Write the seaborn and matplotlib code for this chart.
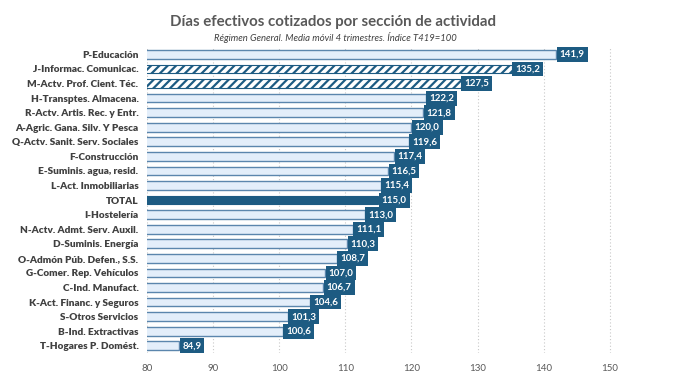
import pandas as pd
import matplotlib.pyplot as plt
import seaborn as sns

# ================================================
# DATA
# ================================================
sectores = ['P-Educación', 'J-Informac. Comunicac.', 'M-Actv. Prof. Cient. Téc.',
            'H-Transptes. Almacena.', 'R-Actv. Artis. Rec. y Entr.',
            'A-Agric. Gana. Silv. Y Pesca', 'Q-Actv. Sanit. Serv. Sociales',
            'F-Construcción', 'E-Suminis. agua, resid.', 'L-Act. Inmobiliarias',
            'TOTAL', 'I-Hostelería', 'N-Actv. Admt. Serv. Auxil.',
            'D-Suminis. Energía', 'O-Admón Púb. Defen., S.S.',
            'G-Comer. Rep. Vehículos', 'C-Ind. Manufact.',
            'K-Act. Financ. y Seguros', 'S-Otros Servicios',
            'B-Ind. Extractivas', 'T-Hogares P. Domést.']
indice = [141.9, 135.2, 127.5, 122.2, 121.8, 120.0, 119.6, 117.4, 116.5, 115.4,
          115.0, 113.0, 111.1, 110.3, 108.7, 107.0, 106.7, 104.6, 101.3, 100.6, 84.9]
rayados = ['J-Informac. Comunicac.', 'M-Actv. Prof. Cient. Téc.']
xticks = [80, 90, 100, 110, 120, 130, 140, 150]

df = pd.DataFrame({'sector': sectores, 'indice': indice})

# ================================================
# STYLE
# ================================================
sns.set_style("white")
plt.rcParams['font.family'] = ['Lato', 'DejaVu Sans']
plt.rcParams['hatch.linewidth'] = 1.6

azul = '#1d5b82'
claro = '#e3eefa'
borde = '#5b86ad'

colores = {s: (azul if s == 'TOTAL' else ('white' if s in rayados else claro))
           for s in sectores}

fig = plt.figure(figsize=(6.73, 3.74), dpi=100)
ax = fig.add_axes([0.218, 0.056, 0.708, 0.818])

sns.barplot(data=df, x='indice', y='sector', hue='sector', palette=colores,
            legend=False, width=0.6, ax=ax, saturation=1)

for patch, s in zip(ax.patches, sectores):
    if s == 'TOTAL':
        patch.set_edgecolor(azul)
        patch.set_linewidth(0.8)
    elif s in rayados:
        patch.set_hatch('////')
        patch.set_edgecolor(azul)
        patch.set_linewidth(0.8)
    else:
        patch.set_edgecolor(borde)
        patch.set_linewidth(1.0)

# value labels
for i, v in enumerate(indice):
    ax.text(v + 0.5, i, f'{v:.1f}'.replace('.', ','), ha='left', va='center',
            color='white', fontsize=7, fontweight='bold',
            bbox=dict(boxstyle='square,pad=0.3', facecolor=azul, edgecolor='none'))

ax.set_xlim(80, 152)
ax.set_ylim(len(sectores) - 0.5, -0.5)
ax.set_xticks(xticks)
ax.set_yticks(range(len(sectores)), labels=sectores)
ax.set_xlabel('')
ax.set_ylabel('')
ax.xaxis.grid(True, linestyle=(0, (1, 2)), color='#c8c8c8', linewidth=0.8)
ax.set_axisbelow(True)
sns.despine(ax=ax, left=True, bottom=True)
ax.tick_params(axis='x', length=0, labelsize=7, labelcolor='#595959', pad=8)
ax.tick_params(axis='y', length=0, labelsize=7.2, labelcolor='#404040', pad=6)

fig.text(0.495, 0.94, 'Días efectivos cotizados por sección de actividad',
         ha='center', va='center', fontsize=10.8, fontweight='bold', color='#595959')
fig.text(0.498, 0.9, 'Régimen General. Media móvil 4 trimestres. Índice T419=100',
         ha='center', va='center', fontsize=6.8, style='italic', color='#404040')

fig.canvas.draw()
for lab in ax.get_yticklabels():
    lab.set_fontweight('heavy')

plt.savefig('out.png', dpi=100)
